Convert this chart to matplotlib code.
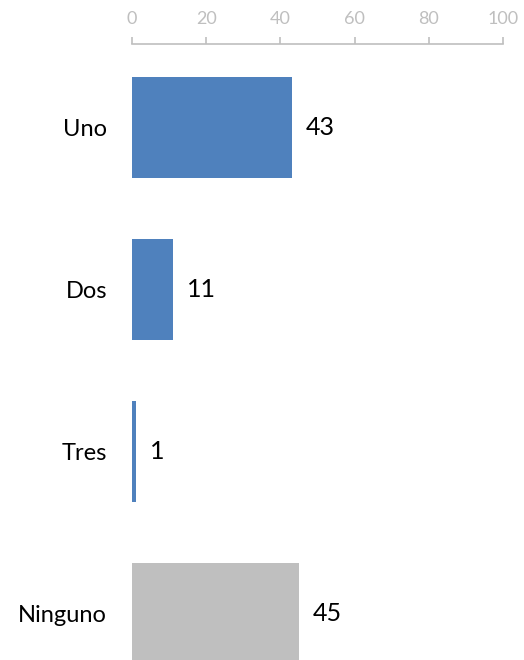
import matplotlib.pyplot as plt

categories = ['Uno', 'Dos', 'Tres', 'Ninguno']
values = [43, 11, 1, 45]
bar_colors = ['#4F81BD', '#4F81BD', '#4F81BD', '#BFBFBF']
x_ticks = [0, 20, 40, 60, 80, 100]

plt.rcParams['font.family'] = ['Lato', 'DejaVu Sans']

fig = plt.figure(figsize=(5.24, 6.6), dpi=100)
ax = fig.add_axes([132 / 524, 0, (503 - 132) / 524, 1 - 44 / 660])

pos = list(range(len(categories)))
bars = ax.barh(pos, values, height=0.623, color=bar_colors)

ax.set_xlim(0, 100)
ax.set_ylim(3.287, -0.515)
ax.set_xticks(x_ticks)
ax.xaxis.tick_top()
ax.tick_params(axis='x', colors='#BFBFBF', labelcolor='#BFBFBF', length=5,
               width=1.2, labelsize=13, pad=7)
ax.set_yticks(pos)
ax.set_yticklabels(categories, fontsize=17)
ax.tick_params(axis='y', length=0, pad=18)

for s in ['bottom', 'left', 'right']:
    ax.spines[s].set_visible(False)
ax.spines['top'].set_color('#BFBFBF')
ax.spines['top'].set_linewidth(1.2)

for b, v in zip(bars, values):
    ax.annotate(str(v), (b.get_width(), b.get_y() + b.get_height() / 2),
                xytext=(10, 0), textcoords='offset points',
                va='center', ha='left', fontsize=18)

fig.savefig('out.png', dpi=100)
